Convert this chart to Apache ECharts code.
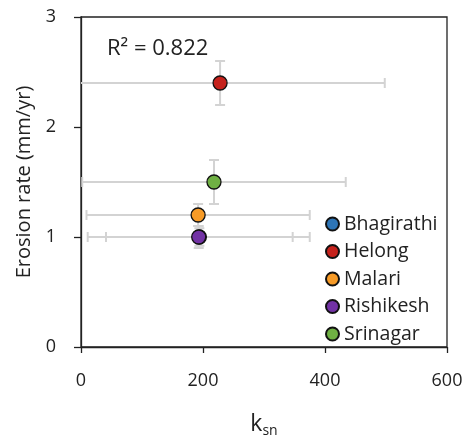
<!DOCTYPE html>
<html>
<head>
<meta charset="utf-8">
<script src="https://cdn.jsdelivr.net/npm/echarts@6/dist/echarts.min.js"></script>
<style>
  html, body { margin: 0; padding: 0; background: #fff; }
  #main { width: 473px; height: 436px; }
</style>
</head>
<body>
<div id="main"></div>
<script>
// site data
var sites = ['Bhagirathi', 'Helong', 'Malari', 'Rishikesh', 'Srinagar'];
var ksn = [194, 228, 192, 193, 218];
var ksnErr = [153, 270, 183, 182, 216];
var erosion = [1.0, 2.4, 1.2, 1.0, 1.5];
var erosionErr = [0.08, 0.2, 0.1, 0.1, 0.2];
var colors = ['#2e75b6', '#c5221c', '#f79b27', '#7232a4', '#6fb043'];
var xTicks = [0, 200, 400, 600];
var yTicks = [0, 1, 2, 3];

var font = '"Open Sans", sans-serif';
var myChart = echarts.init(document.getElementById('main'));

var errRows = sites.map(function (s, i) {
  return [ksn[i], erosion[i], ksnErr[i], erosionErr[i]];
});

var scatterSeries = sites.map(function (s, i) {
  return {
    name: s,
    type: 'scatter',
    z: 5,
    symbolSize: 14,
    itemStyle: { color: colors[i], borderColor: '#111', borderWidth: 1.3, opacity: 1 },
    data: [[ksn[i], erosion[i]]]
  };
});

var errSeries = {
  type: 'custom',
  z: 2,
  clip: true,
  silent: true,
  data: errRows,
  renderItem: function (params, api) {
    var x = api.value(0), y = api.value(1), ex = api.value(2), ey = api.value(3);
    var c = api.coord([x, y]);
    var l = api.coord([x - ex, y]), r = api.coord([x + ex, y]);
    var t = api.coord([x, y + ey]), b = api.coord([x, y - ey]);
    var cap = 5;
    var st = { stroke: '#d3d3d3', lineWidth: 2 };
    var segs = [
      [l[0], c[1], r[0], c[1]],
      [l[0], c[1] - cap, l[0], c[1] + cap],
      [r[0], c[1] - cap, r[0], c[1] + cap],
      [c[0], t[1], c[0], b[1]],
      [c[0] - cap, t[1], c[0] + cap, t[1]],
      [c[0] - cap, b[1], c[0] + cap, b[1]]
    ];
    return {
      type: 'group',
      children: segs.map(function (p) {
        return { type: 'line', shape: { x1: p[0], y1: p[1], x2: p[2], y2: p[3] }, style: st };
      })
    };
  }
};

var option = {
  animation: false,
  backgroundColor: '#fff',
  grid: {
    left: 81, right: 26, top: 17, bottom: 89,
    outerBoundsMode: 'none',
    show: true, borderColor: '#222', borderWidth: 1.3
  },
  legend: {
    data: sites,
    orient: 'vertical',
    left: 320,
    top: 209,
    itemWidth: 13,
    itemHeight: 13,
    itemGap: 7.5,
    icon: 'circle',
    textStyle: { fontFamily: font, fontSize: 19.5, color: '#222' }
  },
  xAxis: {
    type: 'value',
    min: xTicks[0],
    max: xTicks[xTicks.length - 1],
    interval: 200,
    splitLine: { show: false },
    axisLine: { onZero: false, lineStyle: { color: '#222', width: 1.3 } },
    axisTick: { show: true, length: 6, lineStyle: { color: '#222', width: 1.3 } },
    axisLabel: { margin: 25, fontFamily: font, fontSize: 18, color: '#222' },
    name: '{k|k}{s|sn}',
    nameLocation: 'middle',
    nameGap: 64,
    nameTextStyle: {
      rich: {
        k: { fontFamily: font, fontSize: 23, color: '#222' },
        s: { fontFamily: font, fontSize: 14, color: '#222', padding: [13, 0, 0, 0] }
      }
    }
  },
  yAxis: {
    type: 'value',
    min: yTicks[0],
    max: yTicks[yTicks.length - 1],
    interval: 1,
    splitLine: { show: false },
    axisLine: { onZero: false, lineStyle: { color: '#222', width: 1.3 } },
    axisTick: { show: true, length: 7, lineStyle: { color: '#222', width: 1.3 } },
    axisLabel: { margin: 25, fontFamily: font, fontSize: 18, color: '#222' },
    name: 'Erosion rate (mm/yr)',
    nameLocation: 'middle',
    nameGap: 47,
    nameTextStyle: { fontFamily: font, fontSize: 20, color: '#222' }
  },
  graphic: [
    {
      type: 'text',
      left: 107,
      top: 38,
      style: { text: 'R² = 0.822', font: '22px ' + font, fill: '#222' }
    }
  ],
  series: [errSeries].concat(scatterSeries)
};

myChart.setOption(option);
</script>
</body>
</html>
